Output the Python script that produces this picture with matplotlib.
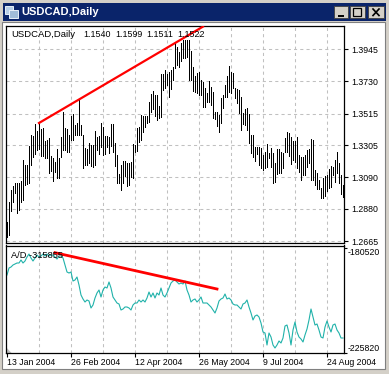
# USDCAD daily bars with A/D indicator, terminal window look
import numpy as np
import matplotlib
matplotlib.use("Agg")
import matplotlib.pyplot as plt
from matplotlib.patches import Rectangle, Polygon

plt.rcParams["font.family"] = ["Liberation Sans", "DejaVu Sans"]

# %%
# Data
highs = [
    1.2792, 1.2925, 1.3005, 1.3032, 1.3052, 1.3052, 1.3052, 1.3065, 1.3205, 1.3172,
    1.3172, 1.3299, 1.3372, 1.3365, 1.3445, 1.3399, 1.3452, 1.3412, 1.3419, 1.3332,
    1.3339, 1.3352, 1.3232, 1.3219, 1.3192, 1.3279, 1.3219, 1.3359, 1.3525, 1.3419,
    1.3412, 1.3372, 1.3499, 1.3512, 1.3439, 1.3452, 1.3605, 1.3439, 1.3372, 1.3285,
    1.3279, 1.3319, 1.3305, 1.3305, 1.3399, 1.3359, 1.3365, 1.3452, 1.3425, 1.3365,
    1.3365, 1.3359, 1.3445, 1.3445, 1.3319, 1.3239, 1.3112, 1.3172, 1.3199, 1.3199,
    1.3185, 1.3185, 1.3192, 1.3312, 1.3305, 1.3419, 1.3425, 1.3505, 1.3499, 1.3499,
    1.3499, 1.3592, 1.3645, 1.3665, 1.3639, 1.3639, 1.3565, 1.3779, 1.3779, 1.3805,
    1.3779, 1.3792, 1.3805, 1.3825, 1.3985, 1.3959, 1.3925, 1.3985, 1.4005, 1.4005,
    1.4005, 1.4005, 1.3932, 1.3825, 1.3765, 1.3785, 1.3792, 1.3739, 1.3725, 1.3685,
    1.3652, 1.3732, 1.3692, 1.3659, 1.3525, 1.3525, 1.3505, 1.3619, 1.3639, 1.3705,
    1.3765, 1.3832, 1.3792, 1.3785, 1.3685, 1.3679, 1.3672, 1.3625, 1.3519, 1.3545,
    1.3552, 1.3512, 1.3372, 1.3372, 1.3292, 1.3292, 1.3292, 1.3285, 1.3239, 1.3259,
    1.3312, 1.3252, 1.3285, 1.3252, 1.3185, 1.3279, 1.3279, 1.3259, 1.3252, 1.3352,
    1.3392, 1.3385, 1.3359, 1.3332, 1.3332, 1.3359, 1.3239, 1.3225, 1.3225, 1.3239,
    1.3272, 1.3279, 1.3345, 1.3339, 1.3139, 1.3119, 1.3072, 1.3019, 1.3085, 1.3099,
    1.3105, 1.3145, 1.3165, 1.3159, 1.3205, 1.3259, 1.3185, 1.3105, 1.3039,
]
lows = [
    1.2692, 1.2705, 1.2865, 1.2925, 1.2985, 1.2852, 1.2872, 1.2925, 1.2939, 1.3039,
    1.3045, 1.3052, 1.3172, 1.3225, 1.3245, 1.3272, 1.3279, 1.3232, 1.3232, 1.3219,
    1.3219, 1.3119, 1.3132, 1.3065, 1.3125, 1.3085, 1.3085, 1.3225, 1.3272, 1.3272,
    1.3259, 1.3259, 1.3339, 1.3339, 1.3372, 1.3372, 1.3372, 1.3372, 1.3152, 1.3172,
    1.3172, 1.3185, 1.3165, 1.3159, 1.3172, 1.3272, 1.3245, 1.3292, 1.3239, 1.3245,
    1.3292, 1.3252, 1.3299, 1.3259, 1.3165, 1.3052, 1.3052, 1.3005, 1.3052, 1.3099,
    1.3032, 1.3039, 1.3092, 1.3085, 1.3259, 1.3265, 1.3325, 1.3339, 1.3392, 1.3425,
    1.3452, 1.3459, 1.3525, 1.3545, 1.3499, 1.3472, 1.3485, 1.3492, 1.3672, 1.3685,
    1.3705, 1.3625, 1.3679, 1.3739, 1.3819, 1.3839, 1.3825, 1.3865, 1.3885, 1.3885,
    1.3892, 1.3739, 1.3739, 1.3665, 1.3659, 1.3652, 1.3639, 1.3639, 1.3559, 1.3559,
    1.3592, 1.3592, 1.3572, 1.3485, 1.3479, 1.3432, 1.3392, 1.3452, 1.3552, 1.3625,
    1.3625, 1.3659, 1.3652, 1.3685, 1.3619, 1.3585, 1.3519, 1.3405, 1.3445, 1.3439,
    1.3405, 1.3319, 1.3252, 1.3225, 1.3199, 1.3245, 1.3172, 1.3152, 1.3139, 1.3152,
    1.3159, 1.3219, 1.3159, 1.3052, 1.3059, 1.3112, 1.3119, 1.3119, 1.3152, 1.3259,
    1.3259, 1.3232, 1.3179, 1.3205, 1.3192, 1.3152, 1.3125, 1.3072, 1.3105, 1.3105,
    1.3159, 1.3185, 1.3072, 1.3072, 1.3039, 1.3012, 1.3012, 1.2952, 1.2952, 1.2965,
    1.2999, 1.3019, 1.3025, 1.3105, 1.3059, 1.3119, 1.3052, 1.2979, 1.2959,
]
ad_values = [
    -192170, -189150, -188720, -187850, -187420, -186990, -186990, -185700, -186990, -186130,
    -184400, -183110, -184830, -186130, -184830, -183540, -184400, -183970, -183110, -183970,
    -183110, -183970, -183540, -183540, -184400, -185270, -183970, -183970, -184830, -187850,
    -190870, -191310, -190870, -194760, -194330, -193030, -196480, -200800, -202520, -203820,
    -202950, -203380, -206400, -205110, -202090, -199930, -198640, -201660, -198640, -197350,
    -197780, -195190, -197780, -201660, -202950, -204250, -204680, -207270, -206840, -205970,
    -205970, -206400, -207270, -205110, -204250, -204250, -202950, -203820, -202950, -203820,
    -202090, -199500, -201660, -199930, -202090, -199930, -200800, -197780, -200800, -201660,
    -199930, -197780, -195620, -194760, -194330, -195190, -196050, -195620, -196050, -194760,
    -198640, -200800, -203820, -202950, -202520, -203820, -202950, -201660, -204250, -204250,
    -204250, -205110, -205970, -207270, -208560, -206400, -203380, -202520, -202090, -200360,
    -202520, -202090, -202950, -204680, -205110, -205110, -205970, -206840, -204680, -204250,
    -202950, -205970, -208560, -211580, -209860, -209420, -210290, -212880, -216760, -217190,
    -222370, -217190, -218920, -222370, -223660, -222370, -220640, -221500, -219350, -214170,
    -213740, -217190, -222370, -215900, -212440, -216760, -218920, -219780, -221070, -218050,
    -215460, -211580, -206840, -210290, -213740, -213310, -215900, -218920, -219350, -214600,
    -212010, -214600, -216760, -213740, -213310, -215900, -217190, -219350, -219350,
]
header_name = "USDCAD,Daily"
header_values = ["1.1540", "1.1599", "1.1511", "1.1522"]
ad_text = "A/D -315855"
price_ticks = [1.2665, 1.2880, 1.3090, 1.3305, 1.3515, 1.3730, 1.3945]
price_labels = ["1.2665", "1.2880", "1.3090", "1.3305", "1.3515", "1.3730", "1.3945"]
ad_ticks = [-225820, -180520]
ad_labels = ["-225820", "-180520"]
date_ticks = [0, 32, 64, 96, 128, 160]
date_labels = ["13 Jan 2004", "26 Feb 2004", "12 Apr 2004", "26 May 2004", "9 Jul 2004", "24 Aug 2004"]
grid_bars = [16, 32, 48, 64, 80, 96, 112, 128, 144, 160]
trend_price_bars = [16, 98]
trend_price_vals = [1.3452, 1.4095]
trend_ad_bars = [24, 105]
trend_ad_vals = [-182550, -198210]

# %%
W, H = 389, 374
fig = plt.figure(figsize=(W / 100, H / 100), dpi=100, facecolor="#d4d0c8")


def box(left, top, right, bottom):
    # pixel box to figure fractions
    return [left / W, 1 - bottom / H, (right - left) / W, (bottom - top) / H]


# Window chrome
chrome = fig.add_axes([0, 0, 1, 1])
chrome.set_xlim(0, W)
chrome.set_ylim(H, 0)
chrome.axis("off")
chrome.add_patch(Rectangle((3, 3), 383, 18, color="#0a246a", lw=0))
chrome.add_patch(Rectangle((2, 22), 383, 347, fc="white", ec="#808080", lw=0.8))
chrome.add_patch(Rectangle((5, 6), 8, 8, fc="#b8cfe8", ec="#e8f0f8", lw=0.7))
chrome.add_patch(Rectangle((9, 10), 9, 8, fc="#a0bcd8", ec="#e8f0f8", lw=0.7))
chrome.text(21, 12, "USDCAD,Daily", color="white", fontsize=8, fontweight="bold", va="center", ha="left")
for left, right in [(334, 348), (350, 365), (368, 384)]:
    chrome.add_patch(Rectangle((left, 6), right - left, 12, fc="#d4d0c8", ec="#404040", lw=0.6))
chrome.plot([338, 344], [15.5, 15.5], color="black", lw=1.4, solid_capstyle="butt")
chrome.add_patch(Rectangle((353.5, 8), 8, 8, fc="none", ec="black", lw=0.9))
chrome.plot([373, 379], [9, 15.5], color="black", lw=1.2)
chrome.plot([379, 373], [9, 15.5], color="black", lw=1.2)

# %%
# Price panel
bars = np.arange(len(highs))
x_lim = (-0.25, 168.5)

ax1 = fig.add_axes(box(6.5, 26, 344, 242.5))
ax1.set_xlim(x_lim)
ax1.set_ylim(1.2655, 1.4099)
for g in grid_bars:
    ax1.axvline(g, color="#c0c0c0", lw=0.75, dashes=(3, 3), zorder=1)
for p in price_ticks:
    ax1.axhline(p, color="#c0c0c0", lw=0.75, dashes=(3, 3), zorder=1)
ax1.vlines(bars, lows, highs, color="black", lw=0.55, antialiased=False, zorder=2)
ax1.plot(trend_price_bars, trend_price_vals, color="#ff0000", lw=1.6, zorder=3)
ax1.text(11, 34, header_name, transform=chrome.transData, fontsize=6.8, va="center", ha="left", zorder=5)
for left, val in zip([83, 115, 146, 177], header_values):
    ax1.text(left, 34, val, transform=chrome.transData, fontsize=6.4, va="center", ha="left", zorder=5)
ax1.yaxis.tick_right()
ax1.set_yticks(price_ticks)
ax1.set_yticklabels(price_labels)
ax1.set_xticks([])
ax1.tick_params(axis="y", length=2.6, width=0.8, pad=2.4, labelsize=6.3)

# %%
# A/D panel
ax2 = fig.add_axes(box(6.5, 245.5, 344, 353))
ax2.set_xlim(x_lim)
ax2.set_ylim(-225820, -179440)
for g in grid_bars:
    ax2.axvline(g, color="#c0c0c0", lw=0.75, dashes=(3, 3), zorder=1)
ax2.plot(bars, ad_values, color="#20b2aa", lw=0.8, zorder=2)
ax2.plot(trend_ad_bars, trend_ad_vals, color="#ff0000", lw=2.0, zorder=3)
ax2.add_patch(Polygon([(0, 0), (0.015, 0), (0, 0.05)], transform=ax2.transAxes, color="#c0c0c0", lw=0))
ax2.text(11, 255, ad_text, transform=chrome.transData, fontsize=6.7, va="center", ha="left", zorder=5)
ax2.yaxis.tick_right()
ax2.set_yticks(ad_ticks)
ax2.set_yticklabels(ad_labels)
ax2.tick_params(axis="y", length=2.2, width=0.8, pad=0.6, labelsize=6.3)
for lab, align in zip(ax2.get_yticklabels(), ["bottom", "top"]):
    lab.set_verticalalignment(align)
ax2.set_xticks(date_ticks)
ax2.set_xticklabels(date_labels, ha="left")
ax2.tick_params(axis="x", length=2.9, width=0.8, pad=1.0, labelsize=6.3)

for ax in (ax1, ax2):
    for spine in ax.spines.values():
        spine.set_linewidth(0.9)

fig.savefig("out.png", dpi=100)
